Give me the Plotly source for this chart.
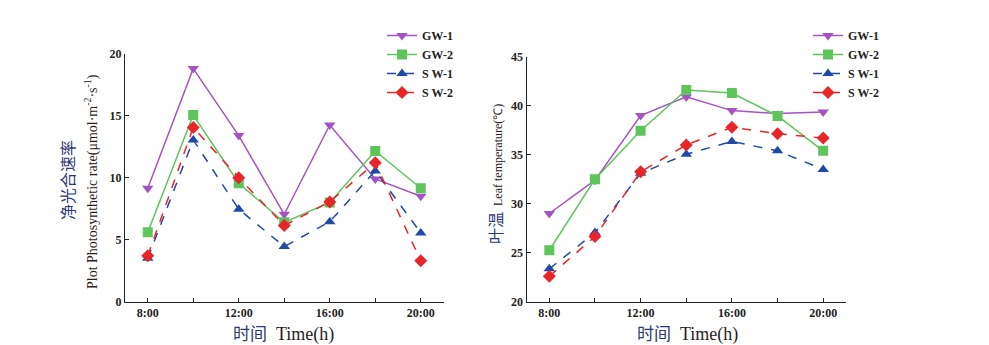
import plotly.graph_objects as go

hours = [8, 10, 12, 14, 16, 18, 20]
tick_vals = [8, 10, 12, 14, 16, 18, 20]
tick_text = ["8:00", " ", "12:00", " ", "16:00", " ", "20:00"]

series_names = ["GW-1", "GW-2", "S W-1", "S W-2"]

# Net photosynthetic rate
pn_gw1 = [9.15, 18.8, 13.4, 7.05, 14.25, 9.9, 8.5]
pn_gw2 = [5.6, 15.05, 9.55, 6.4, 8.0, 12.15, 9.15]
pn_sw1 = [3.5, 13.05, 7.45, 4.45, 6.45, 10.55, 5.55]
pn_sw2 = [3.7, 14.05, 10.0, 6.15, 8.05, 11.2, 3.3]

# Leaf temperature
lt_gw1 = [29.0, 32.4, 39.0, 40.9, 39.5, 39.2, 39.35]
lt_gw2 = [25.25, 32.5, 37.45, 41.6, 41.3, 38.95, 35.4]
lt_sw1 = [23.35, 27.05, 33.1, 35.05, 36.35, 35.4, 33.5]
lt_sw2 = [22.6, 26.65, 33.25, 36.0, 37.8, 37.15, 36.7]

colors = ["#a552c2", "#5dc55a", "#1f4aa8", "#e8262a"]
symbols = ["triangle-down", "square", "triangle-up", "diamond"]
dashes = ["solid", "solid", "dash", "dash"]

SERIF = "Liberation Serif, Times New Roman, serif"
CJK = "Noto Sans CJK SC"
CN = "#2b3a72"
EN = "#2a1c1c"

fig = go.Figure()

for i, ys in enumerate([pn_gw1, pn_gw2, pn_sw1, pn_sw2]):
    fig.add_trace(go.Scatter(
        x=hours, y=ys, name=series_names[i], mode="lines+markers",
        line=dict(color=colors[i], width=1.5, dash=dashes[i]),
        marker=dict(symbol=symbols[i], size=10, color=colors[i]),
        xaxis="x", yaxis="y", legend="legend"))

for i, ys in enumerate([lt_gw1, lt_gw2, lt_sw1, lt_sw2]):
    fig.add_trace(go.Scatter(
        x=hours, y=ys, name=series_names[i], mode="lines+markers",
        line=dict(color=colors[i], width=1.5, dash=dashes[i]),
        marker=dict(symbol=symbols[i], size=10, color=colors[i]),
        xaxis="x2", yaxis="y2", legend="legend2"))

W, H = 989, 345
def px_x(p):
    return p / W
def px_y(p):
    return 1 - p / H

axis_common = dict(
    showline=True, linecolor="#222", linewidth=1, ticks="inside", ticklen=4,
    tickcolor="#222", showgrid=False, zeroline=False, automargin=False,
    tickfont=dict(family=SERIF, size=12, color="#222", weight="bold"),
)

fig.update_layout(
    template="none",
    width=W, height=H, autosize=False,
    margin=dict(l=0, r=0, t=0, b=0, pad=0),
    paper_bgcolor="white", plot_bgcolor="white",
    xaxis=dict(domain=[px_x(125), px_x(443.5)], range=[7, 21],
               tickvals=tick_vals, ticktext=tick_text, anchor="y", **axis_common),
    yaxis=dict(domain=[px_y(301.7), px_y(53.7)], range=[0, 20],
               tickvals=[0, 5, 10, 15, 20], anchor="x", **axis_common),
    xaxis2=dict(domain=[px_x(526.5), px_x(846)], range=[7, 21],
                tickvals=tick_vals, ticktext=tick_text, anchor="y2", **axis_common),
    yaxis2=dict(domain=[px_y(301.7), px_y(56.7)], range=[20, 45],
                tickvals=[20, 25, 30, 35, 40, 45], anchor="x2", **axis_common),
    legend=dict(x=px_x(382), y=px_y(21), xanchor="left", yanchor="top",
                font=dict(family=SERIF, size=12, color="#222", weight="bold"),
                bgcolor="rgba(0,0,0,0)", tracegroupgap=0, itemwidth=30),
    legend2=dict(x=px_x(808), y=px_y(21), xanchor="left", yanchor="top",
                 font=dict(family=SERIF, size=12, color="#222", weight="bold"),
                 bgcolor="rgba(0,0,0,0)", tracegroupgap=0, itemwidth=30),
    showlegend=True,
)

ann = []
# Left y title: Chinese and English
ann.append(dict(x=px_x(67), y=px_y(180), xref="paper", yref="paper",
                xanchor="center", yanchor="middle",
                text="净光合速率", textangle=-90, showarrow=False,
                font=dict(family=CJK, size=16, color=CN)))
ann.append(dict(x=px_x(91), y=px_y(182), xref="paper", yref="paper",
                xanchor="center", yanchor="middle",
                text="Plot Photosynthetic rate(μmol·m<sup>-2</sup>·s<sup>-1</sup>)",
                textangle=-90, showarrow=False,
                font=dict(family=SERIF, size=14, color=EN)))
# Right y title
ann.append(dict(x=px_x(495), y=px_y(174), xref="paper", yref="paper",
                xanchor="center", yanchor="middle",
                text="<span style='font-family:%s;font-size:16px;color:%s'>叶温</span>&nbsp;&nbsp;Leaf temperature(℃)" % (CJK, CN),
                textangle=-90, showarrow=False,
                font=dict(family=SERIF, size=12, color=EN)))
# X titles
for cx in [283, 687]:
    ann.append(dict(x=px_x(cx), y=px_y(332), xref="paper", yref="paper",
                    xanchor="center", yanchor="middle",
                    text="<span style='font-family:%s;font-size:17px;color:%s'>时间</span>&nbsp;&nbsp;Time(h)" % (CJK, CN),
                    showarrow=False,
                    font=dict(family=SERIF, size=18, color=EN)))
fig.update_layout(annotations=ann)

fig.write_html("out.html")
